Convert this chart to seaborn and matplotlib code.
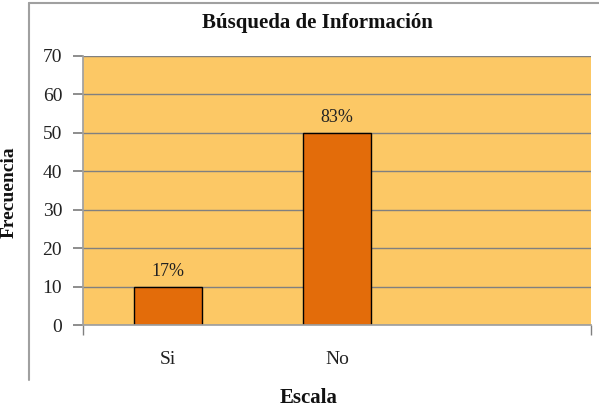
import matplotlib
matplotlib.use("Agg")
import matplotlib.pyplot as plt
import seaborn as sns
from matplotlib.lines import Line2D

categories = ["Si", "No"]
values = [10, 50]
labels = ["17%", "83%"]
y_ticks = [0, 10, 20, 30, 40, 50, 60, 70]

sns.set_theme(style="white")
plt.rcParams["font.family"] = ["Liberation Serif", "DejaVu Serif"]

fig = plt.figure(figsize=(5.99, 4.08), dpi=100)
ax = fig.add_axes([83/599, 1-325/408, 508/599, 269/408])
ax.set_facecolor("#FCC865")

sns.barplot(x=categories, y=values, ax=ax, color="#E36C0A", width=0.4,
            edgecolor="black", linewidth=1.0, saturation=1)
ax.set_xlim(-0.5, 2.5)
ax.set_ylim(0, 70)
ax.set_yticks(y_ticks)
ax.yaxis.grid(True, color="#808080", linewidth=1)
ax.set_axisbelow(True)
for s in ["top", "right"]:
    ax.spines[s].set_visible(False)
ax.spines["left"].set_color("#A0A0A0")
ax.spines["bottom"].set_color("#A0A0A0")

ax.tick_params(axis="y", length=7, color="#808080", direction="out", left=True,
               labelsize=14, pad=8, labelcolor="#222222")
ax.tick_params(axis="x", length=0, labelsize=14, pad=19, labelcolor="#222222")
ax.set_xticks([-0.5, 2.5], minor=True)
ax.tick_params(axis="x", which="minor", length=7, color="#808080", bottom=True, direction="out")

ax.bar_label(ax.containers[0], labels=labels, padding=5, fontsize=13, color="#222222")
ax.set_xlabel("")
ax.set_ylabel("")

fig.text(317/599, 1-23/408, "Búsqueda de Información", ha="center", va="center",
         fontsize=15, fontweight="bold", color="#111111")
fig.text(309/599, 1-398/408, "Escala", ha="center", va="center",
         fontsize=15, fontweight="bold", color="#111111")
fig.text(9/599, 1-192/408, "Frecuencia", ha="center", va="center", rotation=90,
         fontsize=14, fontweight="bold", color="#111111")

# partial chart-area border (top and left edges)
fig.lines.append(Line2D([29/599, 1.0], [1-3/408, 1-3/408], transform=fig.transFigure,
                        color="#A0A0A0", linewidth=1.5))
fig.lines.append(Line2D([29/599, 29/599], [1-3/408, 1-380/408], transform=fig.transFigure,
                        color="#A0A0A0", linewidth=1.5))

fig.savefig("out.png", dpi=100)
